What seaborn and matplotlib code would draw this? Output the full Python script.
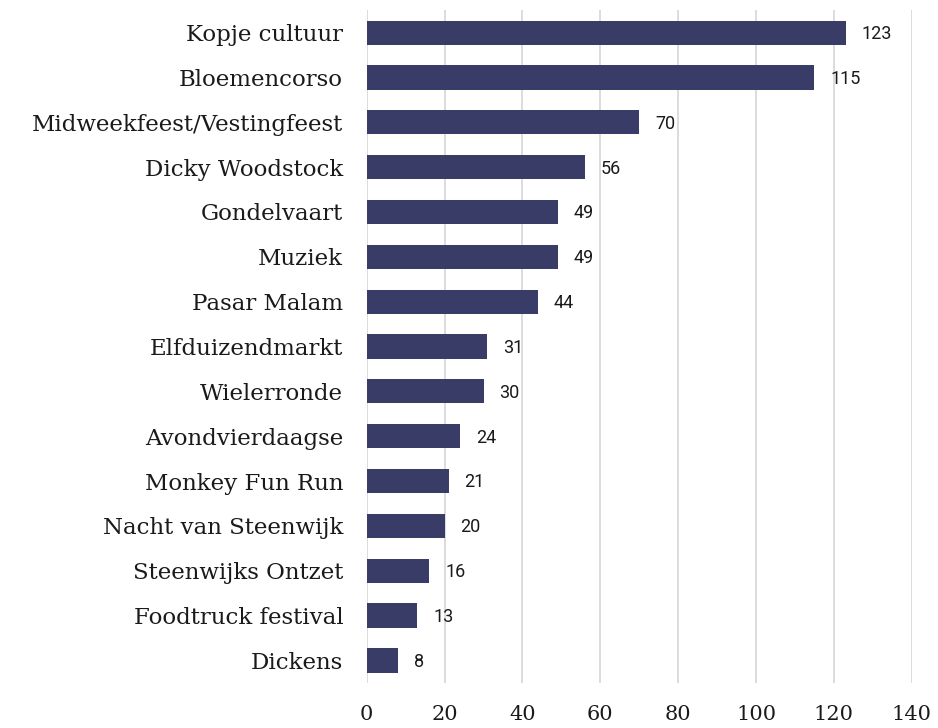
import matplotlib
matplotlib.use("Agg")
import matplotlib.pyplot as plt
import seaborn as sns
import pandas as pd

# evenementen en aantallen (van boven naar beneden)
evenementen = ["Kopje cultuur", "Bloemencorso", "Midweekfeest/Vestingfeest",
               "Dicky Woodstock", "Gondelvaart", "Muziek", "Pasar Malam",
               "Elfduizendmarkt", "Wielerronde", "Avondvierdaagse",
               "Monkey Fun Run", "Nacht van Steenwijk", "Steenwijks Ontzet",
               "Foodtruck festival", "Dickens"]
aantallen = [123, 115, 70, 56, 49, 49, 44, 31, 30, 24, 21, 20, 16, 13, 8]
x_ticks = [0, 20, 40, 60, 80, 100, 120, 140]

df = pd.DataFrame({"evenement": evenementen, "aantal": aantallen})

sns.set_style("white")
fig = plt.figure(figsize=(9.38, 7.28), dpi=100)
ax = fig.add_axes([0.391, 0.062, 0.581, 0.924])

sns.barplot(data=df, x="aantal", y="evenement", color="#383C66",
            saturation=1, width=0.54, linewidth=0, ax=ax, zorder=3)

ax.set_xlim(0, 140)
ax.set_xticks(x_ticks)
ax.grid(axis="x", color="#D9D9D9", linewidth=1.3, zorder=0)
ax.grid(axis="y", visible=False)
for s in ax.spines.values():
    s.set_visible(False)
ax.set_xlabel("")
ax.set_ylabel("")
ax.tick_params(axis="both", length=0)
ax.tick_params(axis="x", pad=16)
ax.tick_params(axis="y", pad=17)

for lbl in ax.get_yticklabels():
    lbl.set_fontfamily("DejaVu Serif")
    lbl.set_fontsize(16.5)
    lbl.set_color("#1a1a1a")
for lbl in ax.get_xticklabels():
    lbl.set_fontfamily("DejaVu Serif")
    lbl.set_fontsize(15)
    lbl.set_color("#1a1a1a")

# waarden naast de balken
for i, v in enumerate(aantallen):
    ax.annotate(str(v), xy=(v, i), xytext=(11.5, -1), textcoords="offset points",
                va="center", ha="left", fontsize=13, family="Roboto",
                color="#1a1a1a")

fig.savefig("out.png", dpi=100, facecolor="white")
